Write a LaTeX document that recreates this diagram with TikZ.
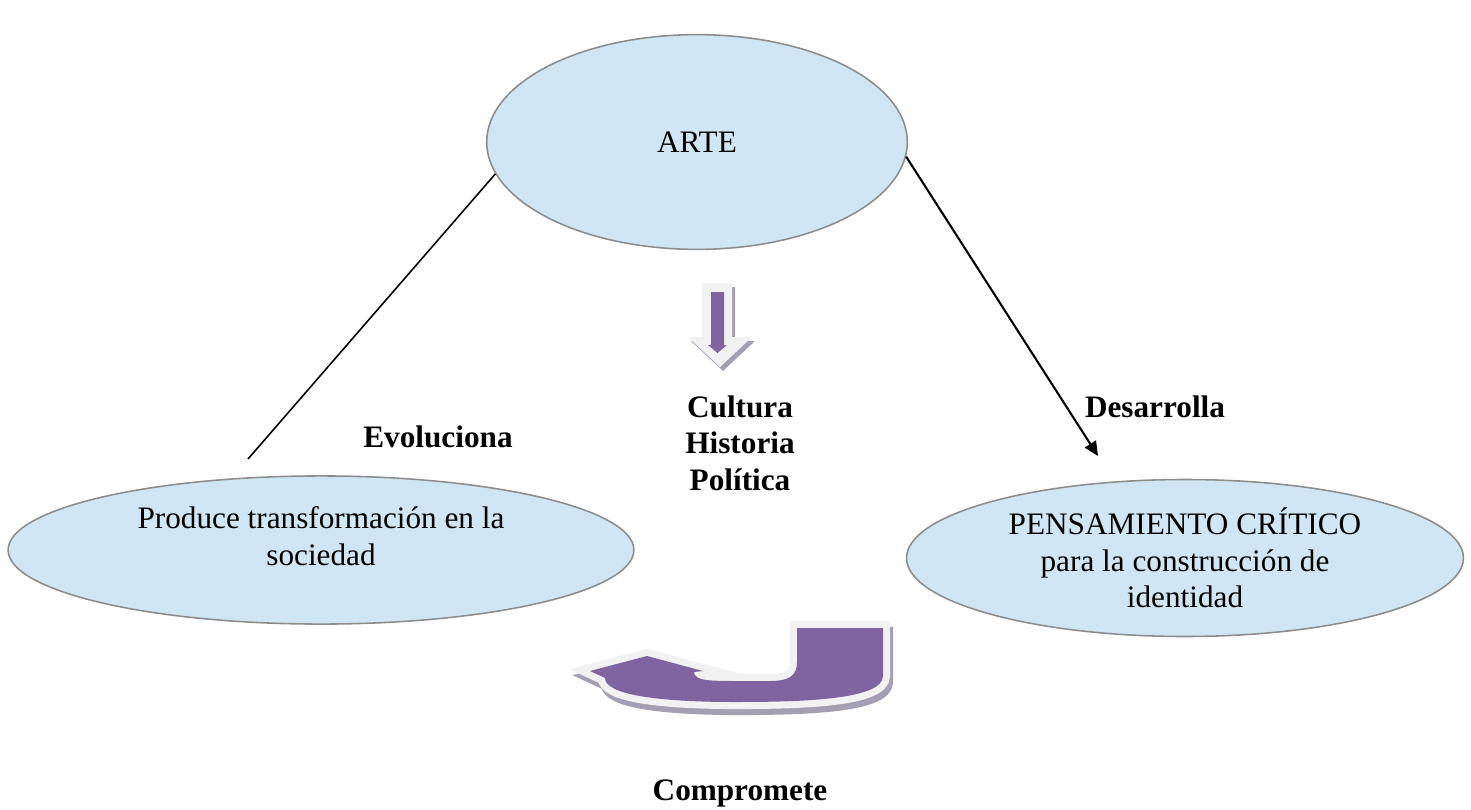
\documentclass[tikz,border=0pt]{standalone}
\usepackage{fontspec}
\setmainfont{Liberation Serif}
\usetikzlibrary{arrows.meta,shapes.geometric}
\definecolor{skyfill}{HTML}{D0E6F4}
\definecolor{rim}{HTML}{8C8C8C}
\definecolor{violet}{HTML}{8064A2}
\definecolor{pale}{HTML}{F2F2F2}
\definecolor{dropgrey}{HTML}{A59FB3}

\begin{document}
\begin{tikzpicture}[
  x=0.0135cm, y=-0.0135cm,
  every node/.style={font=\fontsize{12pt}{14pt}\selectfont, align=center},
  bubble/.style={ellipse, draw=rim, line width=0.6pt, fill=skyfill, inner sep=0pt},
  verb/.style={font=\fontsize{12pt}{14pt}\selectfont\bfseries},
  link/.style={line width=0.6pt, draw=black},
  line/.style={-{Triangle[length=5.5pt,width=5pt]}, line width=0.8pt, draw=black}
]
\useasboundingbox (0,0) rectangle (1471,809);

\node[bubble, minimum width=5.68cm, minimum height=2.90cm] (arte) at (697,142) {ARTE};
\node[bubble, minimum width=8.45cm, minimum height=2.00cm] (sociedad) at (321,550) {\raisebox{4pt}[\height][\depth]{\begin{tabular}{@{}c@{}}Produce transformación en la\\sociedad\end{tabular}}};
\node[bubble, minimum width=7.52cm, minimum height=2.12cm] (pensamiento) at (1185,558) {PENSAMIENTO CRÍTICO\\para la construcción de\\identidad};

\node[verb] (evoluciona) at (438,437) {Evoluciona};
\node[verb] (desarrolla) at (1155,407) {Desarrolla};
\node[verb] (temas) at (740,443) {Cultura\\Historia\\Política};
\node[verb] (compromete) at (740,793) {Compromete};

% Connectors
\coordinate (evoEnd) at (248,459);
\coordinate (desEnd) at (1098,456);
\draw [link] (arte.189) -- (evoEnd);
\draw [line] (arte.356) -- (desEnd);

% Block arrows
\def\downshape{(702,283) -- (732,283) -- (732,337) -- (752,337) -- (720,367) -- (688,337) -- (702,337) -- cycle}
\fill[dropgrey, shift={(3,4)}] \downshape;
\fill[pale] \downshape;
\fill[violet] (711,292) -- (724,292) -- (724,345) -- (727,345) -- (717.5,353) -- (708,345) -- (711,345) -- cycle;

\def\uturn{(797,628) -- (883,628) -- (883,676) .. controls (883,700) and (800,702) .. (735,702) .. controls (660,702) and (605,695) .. (605,678) -- (590,671) -- (647,656) -- (703,671) -- (694,672) .. controls (694,681) and (710,681) .. (740,681) -- (770,681) .. controls (790,681) and (797,675) .. (797,662) -- cycle}
\filldraw[dropgrey, line width=0.19cm, line join=miter, shift={(3,6)}] \uturn;
\filldraw[pale, line width=0.19cm, line join=miter] \uturn;
\fill[violet] \uturn;

\end{tikzpicture}
\end{document}
